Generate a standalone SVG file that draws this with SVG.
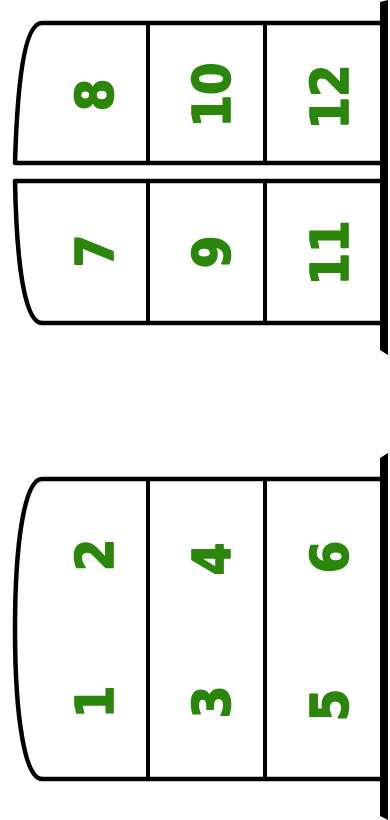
<svg xmlns="http://www.w3.org/2000/svg" width="390" height="820" viewBox="0 0 390 820">
<style>
.frame{fill:none;stroke:#000;stroke-width:4.5;stroke-linejoin:round}
.div{stroke:#000;stroke-width:4}
.bar{fill:#000}
.num{font-family:"DejaVu Sans Condensed","DejaVu Sans",sans-serif;font-weight:bold;font-size:52px;fill:#2b870c;stroke:#2b870c;stroke-width:1.6;stroke-linejoin:round;text-anchor:middle}
</style>
<rect width="390" height="820" fill="#fff"/>
<g id="upper-top">
<path class="frame" d="M382 23 L42 23 C28 23 18 60 15 163 L382 163"/>
<line class="div" x1="148" y1="23" x2="148" y2="163"/>
<line class="div" x1="265" y1="23" x2="265" y2="163"/>
<text class="num" transform="translate(113,95) rotate(-90)">8</text>
<text class="num" transform="translate(230,95) rotate(-90)">10</text>
<text class="num" transform="translate(348,97) rotate(-90)">12</text>
</g>
<g id="upper-bottom">
<path class="frame" d="M382 181 L15 181 C17 284 28 323 42 323 L382 323"/>
<line class="div" x1="148" y1="181" x2="148" y2="323"/>
<line class="div" x1="265" y1="181" x2="265" y2="323"/>
<text class="num" transform="translate(113,251) rotate(-90)">7</text>
<text class="num" transform="translate(230,252) rotate(-90)">9</text>
<text class="num" transform="translate(348,253) rotate(-90)">11</text>
</g>
<g id="lower">
<path class="frame" d="M382 479 L42 479 C25 479 15 540 15 629 C15 718 25 779 42 779 L382 779"/>
<line class="div" x1="148" y1="479" x2="148" y2="779"/>
<line class="div" x1="265" y1="479" x2="265" y2="779"/>
<text class="num" transform="translate(113,555) rotate(-90)">2</text>
<text class="num" transform="translate(113,702) rotate(-90)">1</text>
<text class="num" transform="translate(230,559) rotate(-90)">4</text>
<text class="num" transform="translate(230,702) rotate(-90)">3</text>
<text class="num" transform="translate(348,557) rotate(-90)">6</text>
<text class="num" transform="translate(348,705) rotate(-90)">5</text>
</g>
<g id="walls">
<polygon class="bar" points="380,2 388,0 388,355 380,350"/>
<polygon class="bar" points="380,458 388,453 388,820 380,816"/>
</g>
</svg>
